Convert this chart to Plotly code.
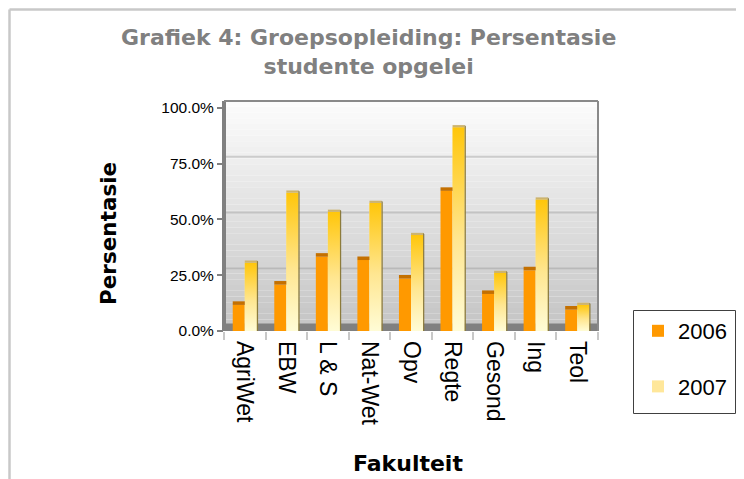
import plotly.graph_objects as go

categories = ["AgriWet", "EBW", "L & S", "Nat-Wet", "Opv", "Regte", "Gesond", "Ing", "Teol"]
pct_2006 = [11.7, 20.8, 33.3, 31.8, 23.5, 62.8, 16.6, 27.2, 9.6]
pct_2007 = [30.6, 62.0, 53.4, 57.4, 43.0, 91.3, 26.0, 58.9, 11.7]
series_names = ["2006", "2007"]
y_ticks = [0, 0.25, 0.5, 0.75, 1.0]

OFF = 8  # page body margin of the written html
W, H = 744 - OFF, 479 - OFF
L, T = 224 - OFF, 101 - OFF
R = W - (598 - OFF)
B = H - (331 - OFF)
PW, PH = W - L - R, H - T - B

def px_x(px):
    return (px - OFF - L) / PW

def px_y(py):
    return (H - B - (py - OFF)) / PH

v06 = [v / 100 for v in pct_2006]
v07 = [v / 100 for v in pct_2007]
xs = list(range(len(categories)))
bw = 0.29
YMAX = 1.031

fig = go.Figure()

fig.add_trace(go.Bar(
    x=xs, y=v06, width=bw, offset=-bw, name=series_names[0],
    marker=dict(color="#FF9900", line=dict(width=0)),
    legendgroup="a", showlegend=True,
))
fig.add_trace(go.Bar(
    x=xs, y=v07, width=bw, offset=0, name=series_names[1],
    marker=dict(color="#FFE79A", line=dict(width=0)),
    legendgroup="b", showlegend=True,
))

grad = [[0, "#FFFCD6"], [0.45, "#FFE690"], [1, "#FFC60A"]]
for i, v in zip(xs, v07):
    x0, x1 = i, i + bw
    fig.add_trace(go.Scatter(
        x=[x0, x0, x1, x1, x0], y=[0, v, v, 0, 0], mode="lines",
        line=dict(width=0), fill="toself",
        fillgradient=dict(type="vertical", colorscale=grad),
        showlegend=False, hoverinfo="skip",
    ))

cap = 0.016
for i, v in zip(xs, v06):
    x0, x1 = i - bw, i
    fig.add_trace(go.Scatter(
        x=[x0, x0, x1, x1, x0], y=[v, v + cap, v + cap, v, v], mode="lines",
        line=dict(width=0), fill="toself", fillcolor="#C47000",
        showlegend=False, hoverinfo="skip",
    ))
for i, v in zip(xs, v07):
    x0, x1 = i, i + bw
    fig.add_trace(go.Scatter(
        x=[x0, x0, x1, x1, x0], y=[v, v + 0.01, v + 0.01, v, v], mode="lines",
        line=dict(width=0), fill="toself", fillcolor="#CDB46E",
        showlegend=False, hoverinfo="skip",
    ))
    fig.add_trace(go.Scatter(
        x=[x1, x1, x1 + 0.03, x1 + 0.03, x1], y=[0, v + 0.01, v + 0.005, 0, 0], mode="lines",
        line=dict(width=0), fill="toself", fillcolor="#8C7B3C",
        showlegend=False, hoverinfo="skip",
    ))

shapes = []
n = 40
for k in range(n):
    c0 = (253, 253, 253)
    c1 = (196, 196, 196)
    f = 1 - (k + 0.5) / n
    col = tuple(int(c0[j] * (1 - f) + c1[j] * f) for j in range(3))
    shapes.append(dict(type="rect", xref="x domain", yref="y domain",
                       x0=0, x1=1, y0=k / n, y1=(k + 1) / n,
                       fillcolor="rgb(%d,%d,%d)" % col, line=dict(width=0), layer="below"))
for g in [0.25, 0.5, 0.75]:
    shapes.append(dict(type="line", xref="x domain", yref="y", x0=0, x1=1,
                       y0=g + 0.031, y1=g + 0.031,
                       line=dict(color="rgba(140,140,140,0.35)", width=2), layer="below"))
shapes.append(dict(type="rect", xref="x domain", yref="y", x0=0, x1=1, y0=0, y1=0.034,
                   fillcolor="#808080", line=dict(width=0), layer="below"))
shapes.append(dict(type="line", xref="x domain", yref="y domain", x0=0, x1=0, y0=0, y1=1,
                   line=dict(color="#808080", width=4)))
shapes.append(dict(type="line", xref="x domain", yref="y domain", x0=0, x1=1, y0=1, y1=1,
                   line=dict(color="#8A8A8A", width=2)))
shapes.append(dict(type="line", xref="x domain", yref="y domain", x0=1, x1=1, y0=0, y1=1,
                   line=dict(color="#8A8A8A", width=2)))
shapes.append(dict(type="line", xref="paper", yref="paper",
                   x0=px_x(9.5), x1=px_x(760), y0=px_y(9.5), y1=px_y(9.5),
                   line=dict(color="#C8C8C8", width=2.5)))
shapes.append(dict(type="line", xref="paper", yref="paper",
                   x0=px_x(9.5), x1=px_x(9.5), y0=px_y(9.5), y1=px_y(500),
                   line=dict(color="#C8C8C8", width=2.5)))
shapes.append(dict(type="rect", xref="paper", yref="paper",
                   x0=px_x(633.5), x1=px_x(735.5), y0=px_y(413.5), y1=px_y(310.5),
                   line=dict(color="#404040", width=1), fillcolor="white"))

annotations = [
    dict(text="Grafiek 4: Groepsopleiding: Persentasie<br>studente opgelei",
         xref="paper", yref="paper", x=px_x(368), y=px_y(52), xanchor="center", yanchor="middle",
         showarrow=False, font=dict(family="DejaVu Sans", size=22, color="#808080", weight="bold")),
    dict(text="Persentasie", xref="paper", yref="paper", x=px_x(108), y=px_y(234),
         xanchor="center", yanchor="middle", textangle=-90, showarrow=False,
         font=dict(family="DejaVu Sans", size=21.5, color="black", weight="bold")),
    dict(text="Fakulteit", xref="paper", yref="paper", x=px_x(408), y=px_y(463),
         xanchor="center", yanchor="middle", showarrow=False,
         font=dict(family="DejaVu Sans", size=22, color="black", weight="bold")),
]

fig.update_layout(
    width=W, height=H,
    margin=dict(l=L, r=R, t=T, b=B, pad=0),
    paper_bgcolor="white", plot_bgcolor="white",
    barmode="overlay",
    showlegend=True,
    legend=dict(x=px_x(638), y=px_y(310), xanchor="left", yanchor="top",
                bgcolor="rgba(0,0,0,0)", borderwidth=0,
                font=dict(family="Liberation Sans", size=22, color="black"),
                traceorder="grouped", tracegroupgap=24, itemwidth=30),
    xaxis=dict(range=[-0.5, len(categories) - 0.5], tickmode="array", tickvals=xs,
               ticktext=categories, tickangle=90, ticks="", showgrid=False,
               zeroline=False, showline=False,
               tickfont=dict(family="Liberation Sans", size=23, color="black"),
               ticklabelstandoff=9,
               minor=dict(ticks="outside", tick0=-0.5, dtick=1, ticklen=8,
                          tickcolor="#C8C8C8", tickwidth=1.5, showgrid=False)),
    yaxis=dict(range=[0, YMAX], tickmode="array", tickvals=y_ticks, tickformat=".1%",
               ticks="outside", ticklen=6, tickcolor="#808080", tickwidth=1.5,
               showgrid=False, zeroline=False, showline=False,
               tickfont=dict(family="Liberation Sans", size=15.5, color="black")),
    shapes=shapes,
    annotations=annotations,
)

fig.write_html("out.html")
